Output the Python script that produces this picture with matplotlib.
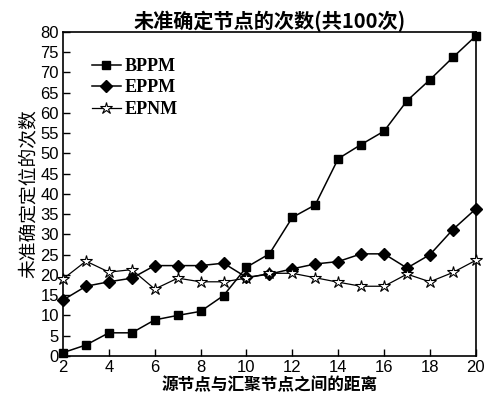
import matplotlib
matplotlib.use('Agg')
import matplotlib.pyplot as plt

plt.rcParams['font.family'] = ['Noto Sans CJK SC', 'DejaVu Sans']

#distance between source and sink node
dist = list(range(2, 21))

#unlocated counts out of 100 runs
bppm = [0.8, 2.7, 5.7, 5.7, 8.9, 10, 11, 14.9, 21.9, 25.2,
        34.2, 37.3, 48.7, 52.2, 55.5, 63, 68.2, 73.7, 79]
eppm = [13.8, 17.2, 18.3, 19.2, 22.3, 22.3, 22.3, 22.9, 19.4, 20.2,
        21.5, 22.7, 23.3, 25.2, 25.2, 21.7, 25, 31.2, 36.3]
epnm = [19, 23.4, 20.7, 21.3, 16.5, 19.2, 18.3, 18.3, 19.2, 20.4,
        20.4, 19.3, 18.2, 17.2, 17.2, 20.2, 18.3, 20.6, 23.6]

fig = plt.figure(figsize=(4.85, 3.99), dpi=100)
ax = fig.add_axes([0.130, 0.108, 0.851, 0.812])

ax.plot(dist, bppm, '-s', color='black', lw=1.1, markersize=6, label='BPPM', clip_on=False, zorder=3)
ax.plot(dist, eppm, '-D', color='black', lw=1.1, markersize=6, label='EPPM', clip_on=False, zorder=3)
ax.plot(dist, epnm, '-*', color='black', lw=0.9, markersize=9, markerfacecolor='white',
        markeredgewidth=0.8, label='EPNM', clip_on=False, zorder=3)

ax.set_xlim(2, 20)
ax.set_ylim(0, 80)
ax.set_xticks(range(2, 21, 2))
ax.set_yticks(range(0, 81, 5))
ax.tick_params(direction='in', length=5, width=1, labelsize=12, pad=3)
for lab in ax.get_xticklabels() + ax.get_yticklabels():
    lab.set_family('Liberation Sans')
for s in ax.spines.values():
    s.set_linewidth(1.2)

ax.set_title('未准确定节点的次数(共100次)', fontsize=14.5, fontweight='bold', pad=3)
ax.set_xlabel('源节点与汇聚节点之间的距离', fontsize=12, fontweight='bold', labelpad=1)
ax.set_ylabel('未准确定定位的次数', fontsize=13.5, labelpad=1)

leg = ax.legend(loc='upper left', bbox_to_anchor=(0.03, 0.97), frameon=False,
                prop={'family': 'Liberation Serif', 'weight': 'bold', 'size': 13},
                handlelength=1.6, handletextpad=0.2, labelspacing=0.25)

fig.savefig('out.png', dpi=100)
